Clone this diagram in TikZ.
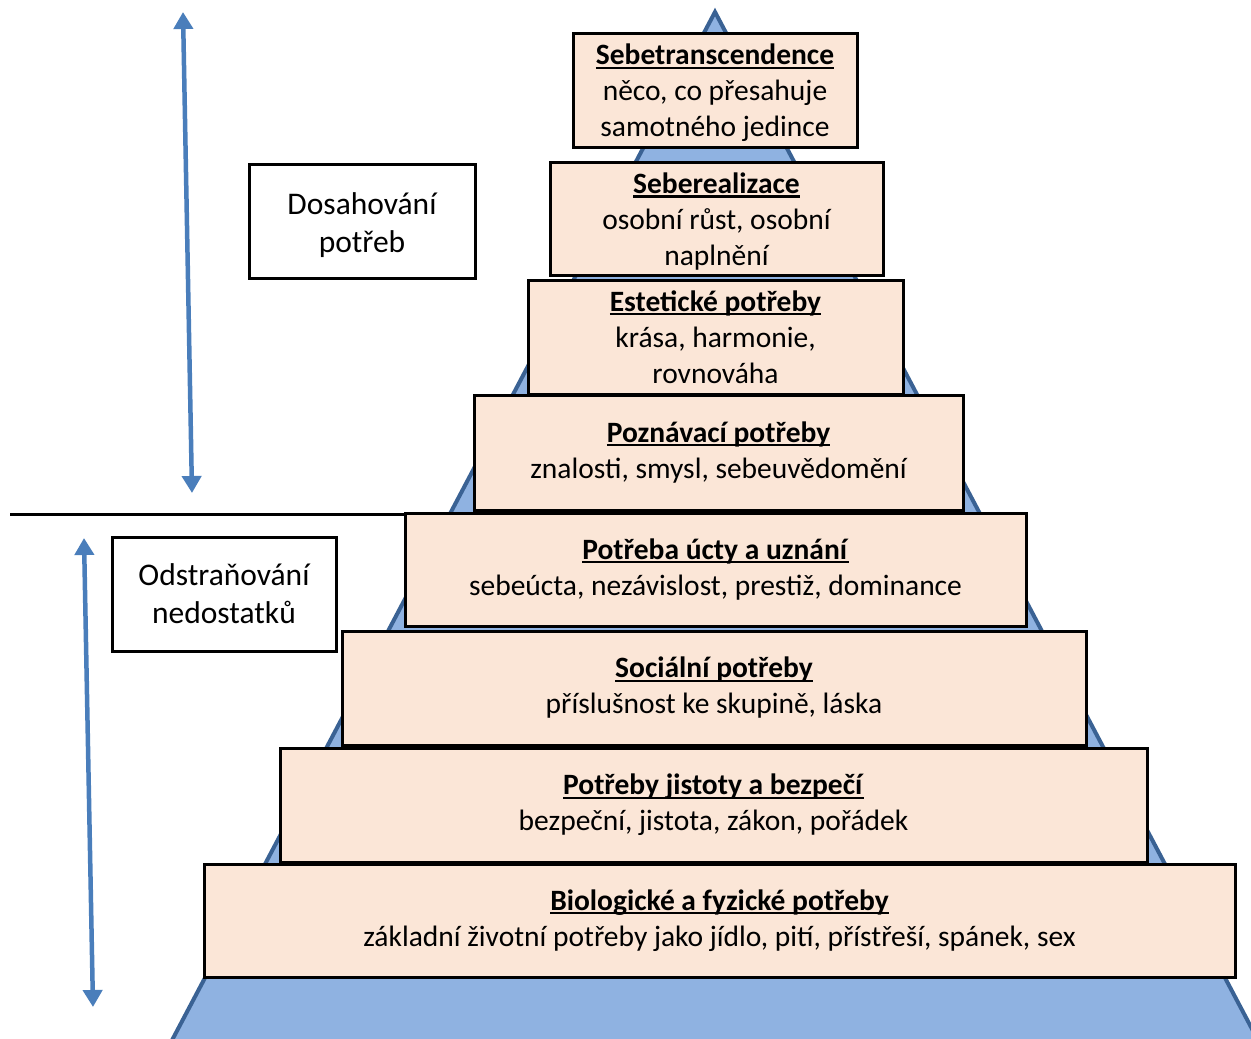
\documentclass[tikz,border=0pt]{standalone}
\usepackage{fontspec}
\setmainfont{Carlito}
\usetikzlibrary{arrows.meta}
\definecolor{tri}{HTML}{8FB2E1}
\definecolor{triedge}{HTML}{3A6294}
\definecolor{peach}{HTML}{FBE6D7}
\definecolor{arrblue}{HTML}{4A7EBB}
\newcommand\myul[1]{\setbox0\hbox{#1}\rlap{\rule[-4pt]{\wd0}{2.2pt}}\box0}
\newcommand\ttl[1]{\myul{\textbf{#1}}}
\newcommand\topstrut{\rule{0pt}{27pt}}
\tikzset{
  lvl/.style={draw=black, line width=3pt, fill=peach, inner sep=0pt, align=center,
    font=\fontsize{29.5}{36}\selectfont},
  side/.style={draw=black, line width=3pt, fill=white, inner sep=0pt, align=center,
    font=\fontsize{31.5}{38}\selectfont},
  dbl/.style={arrblue, line width=4.5pt, {Triangle[width=19pt,length=17pt]}-{Triangle[width=19pt,length=17pt]}}
}
\begin{document}
\begin{tikzpicture}[x=1pt,y={(0pt,-1pt)}]
\useasboundingbox (0,0) rectangle (1251,1039);
\begin{scope}
\clip (0,0) rectangle (1251,1039);
\draw[triedge, fill=tri, line width=4pt, line join=miter] (715,12) -- (160,1063) -- (1270,1063) -- cycle;
\end{scope}
% horizontal divider
\coordinate (hl) at (10,514);
\coordinate (hr) at (545,514);
\draw[black, line width=3pt] (hl) -- (hr);
% levels
\node[lvl, minimum width=284, minimum height=114] (l1) at (715,90)
  {\topstrut\ttl{Sebetranscendence}\\něco, co přesahuje\\samotného jedince};
\node[lvl, minimum width=333, minimum height=113] (l2) at (716.5,218.5)
  {\topstrut\ttl{Seberealizace}\\osobní růst, osobní\\naplnění};
\node[lvl, minimum width=375, minimum height=114] (l3) at (715.5,337)
  {\ttl{Estetické potřeby}\\krása, harmonie,\\rovnováha};
\node[lvl, minimum width=489, minimum height=115] (l4) at (718.5,452.5)
  {\ttl{Poznávací potřeby}\\znalosti, smysl, sebeuvědomění};
\node[lvl, minimum width=621, minimum height=113] (l5) at (715.5,569.5)
  {\ttl{Potřeba úcty a uznání}\\sebeúcta, nezávislost, prestiž, dominance};
\node[lvl, minimum width=744, minimum height=114] (l6) at (714,688)
  {\ttl{Sociální potřeby}\\příslušnost ke skupině, láska};
\node[lvl, minimum width=867, minimum height=114] (l7) at (713.5,805)
  {\ttl{Potřeby jistoty a bezpečí}\\bezpeční, jistota, zákon, pořádek};
\node[lvl, minimum width=1031, minimum height=113] (l8) at (719.5,920.5)
  {\ttl{Biologické a fyzické potřeby}\\základní životní potřeby jako jídlo, pití, přístřeší, spánek, sex};
% side labels
\node[side, minimum width=226, minimum height=114] (s1) at (362,221) {\rule{0pt}{31pt}Dosahování\\potřeb};
\node[side, minimum width=224, minimum height=114] (s2) at (224,594) {Odstraňování\\nedostatků};
% arrows
\coordinate (a1t) at (183,12);
\coordinate (a1b) at (192,493);
\coordinate (a2t) at (84,538);
\coordinate (a2b) at (93,1007);
\draw[dbl] (a1t) -- (a1b);
\draw[dbl] (a2t) -- (a2b);
\end{tikzpicture}
\end{document}
